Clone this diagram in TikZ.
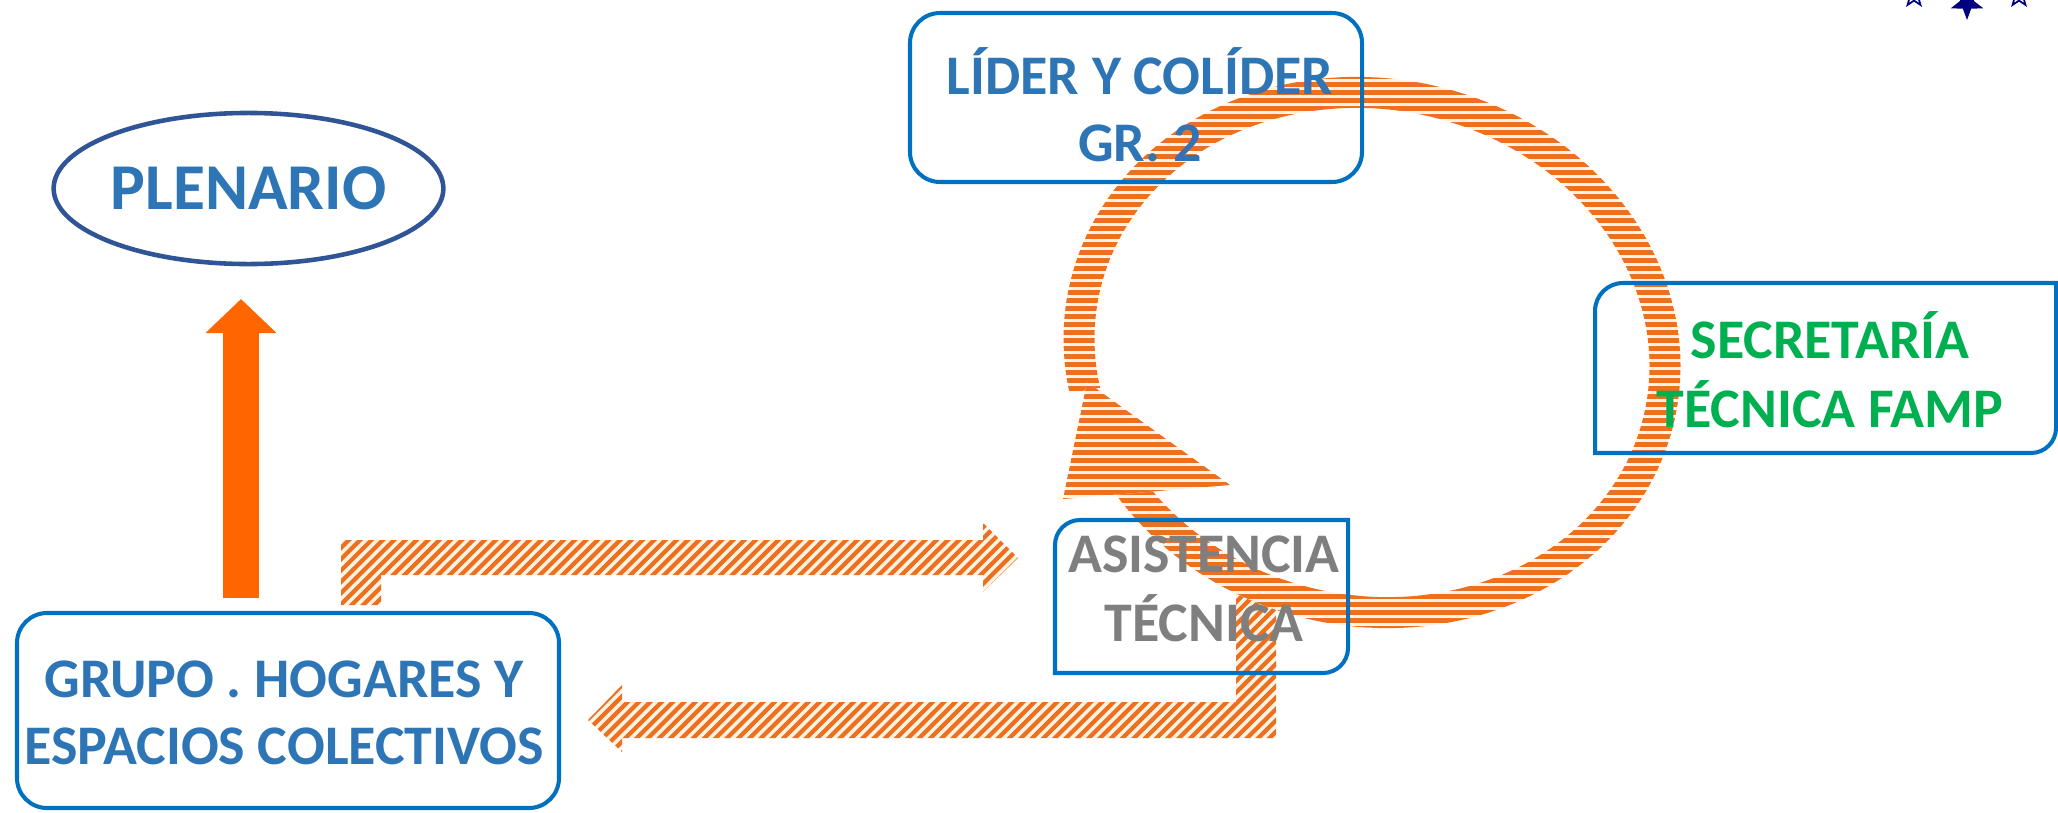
\documentclass[tikz,border=0pt]{standalone}
\usepackage{fontspec}
\setmainfont{Carlito}
\usetikzlibrary{shapes.geometric,arrows.meta}
\definecolor{boxblue}{HTML}{0070C0}
\definecolor{txtblue}{HTML}{2E75B6}
\definecolor{ellblue}{HTML}{2F5597}
\definecolor{txtgreen}{HTML}{00B050}
\definecolor{txtgray}{HTML}{7F7F7F}
\definecolor{solidor}{HTML}{FF6600}
\definecolor{stripeor}{HTML}{ED7020}
\definecolor{cream}{HTML}{FFF4E4}
\definecolor{navy}{HTML}{000080}
\newcommand{\myst}{\rule{0pt}{0.9em}}
\newcommand{\hstripes}{%
  \fill[cream] (1020,-60) rectangle (1720,-650);
  \foreach \k in {0,...,73} {\fill[stripeor] (1020,{-66-8*\k}) rectangle (1720,{-70.6-8*\k});}}
\newcommand{\dstripes}{%
  \fill[cream] (320,-500) rectangle (1300,-770);
  \foreach \k in {0,...,106} {\draw[stripeor, line width=1.2pt] ({55+11.3*\k},-800) -- ({355+11.3*\k},-500);}}
\begin{document}
\begin{tikzpicture}[x=0.01cm,y=0.01cm,
  boxline/.style={draw=boxblue, line width=1.15pt},
  boxtext/.style={align=center, inner sep=0pt, font=\bfseries\fontsize{15.9}{19.2}\selectfont},
  boxtextw/.style={align=center, inner sep=0pt, font=\bfseries\fontsize{15.9}{19.6}\selectfont},
  starsmall/.style={star, star points=5, star point ratio=2.4, draw=navy, fill=white, line width=0.5pt, inner sep=0pt, minimum size=0.22cm}]
\useasboundingbox (0,0) rectangle (2058,-812);
\clip (0,0) rectangle (2058,-812);

% hatched double path arrows
\begin{scope}
  \clip (341,-605) -- (341,-540) -- (983,-540) -- (983,-523) -- (1018,-558) -- (983,-592) -- (983,-575) -- (381,-575) -- (381,-605) -- cycle
        (1276,-587) -- (1276,-738) -- (622,-738) -- (622,-752) -- (588,-720) -- (622,-685) -- (622,-702) -- (1236,-702) -- (1236,-587) -- cycle;
  \dstripes
\end{scope}

% circular arrow: ring
\begin{scope}
  \clip plot[domain=158:495.5, samples=160, variable=\t]
          ({1372+303.2*cos(\t)-57.0*sin(\t)}, {-352.5-64.5*cos(\t)-268.0*sin(\t)})
        -- plot[domain=0:334, samples=160, variable=\s]
          ({1372+272.9*cos(492-\s)-50.5*sin(492-\s)}, {-352.5-58.0*cos(492-\s)-237.7*sin(492-\s)})
        -- cycle;
  \hstripes
\end{scope}
% circular arrow: head
\begin{scope}
  \clip (1063,-499) -- (1087,-382) -- (1230,-485) -- cycle;
  \hstripes
\end{scope}

% boxes
\draw[boxline, rounded corners=0.3cm] (910,-13) rectangle (1362,-182);
\draw[boxline, rounded corners=0.3cm] (17,-613) rectangle (559,-808);
\draw[boxline] (1055,-673) -- (1055,-545) arc[start angle=180,end angle=90,radius=25]
  -- (1348,-520) -- (1348,-648) arc[start angle=0,end angle=-90,radius=25] -- cycle;
\draw[boxline] (1595,-453) -- (1595,-311) arc[start angle=180,end angle=90,radius=28]
  -- (2056,-283) -- (2056,-428) arc[start angle=0,end angle=-90,radius=25] -- cycle;

% nodes
\node[ellipse, draw=ellblue, line width=1.3pt, minimum width=3.84cm, minimum height=1.51cm,
      inner sep=0pt, text=txtblue, font=\bfseries\fontsize{18.6}{22}\selectfont] (plen) at (248.5,-188.5) {PLENARIO};
\node[boxtext, text=txtblue] (lider) at (1140,-103) {\myst LÍDER Y COLÍDER\\GR. 2};
\node[boxtext, text=txtblue] (grupo) at (284,-706) {\myst GRUPO . HOGARES Y\\ESPACIOS COLECTIVOS};
\node[boxtextw, text=txtgreen] (secre) at (1830,-368) {\myst SECRETARÍA\\TÉCNICA FAMP};
\node[boxtextw, text=txtgray] (asis) at (1204,-582) {\myst ASISTENCIA\\TÉCNICA};

% solid arrow up to plenario
\coordinate (aS) at (241,-598);
\coordinate (aE) at (241,-299);
\draw[solidor, line width=0.35cm, -{Triangle[length=0.34cm,width=0.69cm]}] (aS) -- (aE);

% logo stars (cut by the top edge)
\node[starsmall] (stara) at (1914,4) {};
\node[starsmall] (starc) at (2019,4) {};
\node[star, star points=5, star point ratio=2.4, fill=navy, inner sep=0pt, minimum size=0.34cm, rotate=180] (starb) at (1967,-3) {};
\end{tikzpicture}
\end{document}
